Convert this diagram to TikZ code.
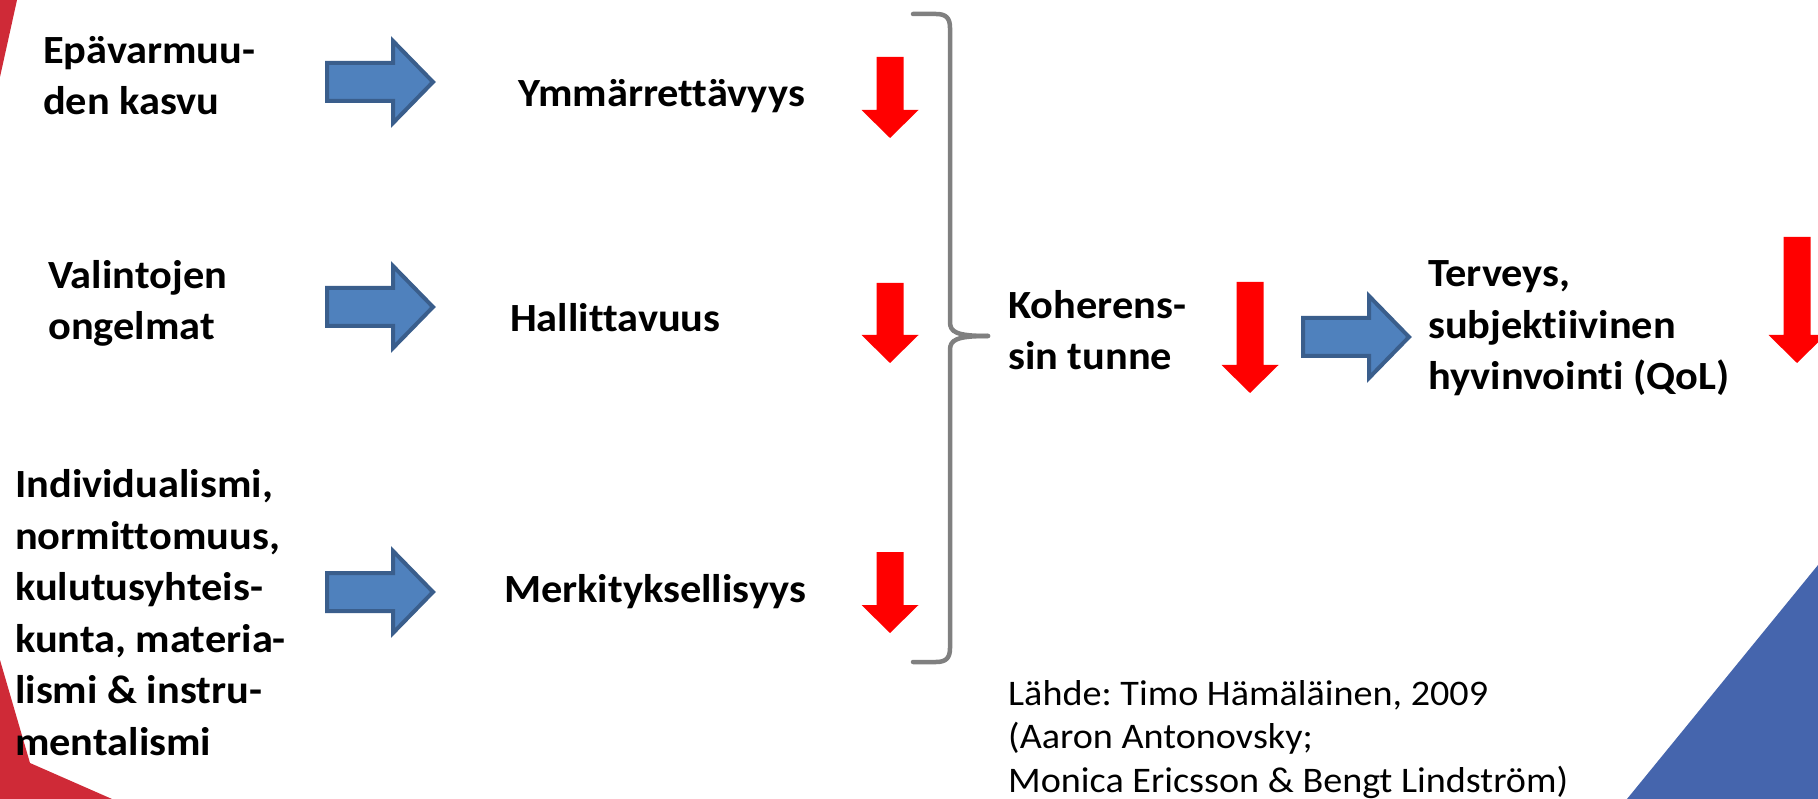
\documentclass[tikz,border=0pt]{standalone}
\usepackage{fontspec}
\setmainfont{Carlito}[RawFeature={-liga}, FakeStretch=1.06]
\definecolor{arrowblue}{HTML}{4F81BD}
\definecolor{arrowedge}{HTML}{3A5E8C}
\definecolor{bracegray}{HTML}{808080}
\definecolor{cornerred}{HTML}{CF2A37}
\definecolor{cornerblue}{HTML}{4565AD}
\newcommand\redarr[4]{%
  \fill[redshape] (#1-13.5,#2) -- (#1+13.5,#2) -- (#1+13.5,#3) -- (#1+28.5,#3) -- (#1,#4) -- (#1-28.5,#3) -- (#1-13.5,#3) -- cycle;}
\newcommand\bluearr[2]{%
  \draw[blueshape] (#1+2,#2-19) -- (#1+68,#2-19) -- (#1+68,#2-41) -- (#1+108,#2) -- (#1+68,#2+41) -- (#1+68,#2+19) -- (#1+2,#2+19) -- cycle;}
\tikzset{
  redshape/.style={fill=red},
  blueshape/.style={fill=arrowblue, draw=arrowedge, line width=4pt, line join=miter},
  boldlbl/.style={font=\fontsize{40}{51.5}\selectfont\bfseries\frenchspacing, align=left, inner sep=0pt, anchor=base west},
  srclbl/.style={font=\fontsize{36}{43.5}\selectfont\frenchspacing, align=left, inner sep=0pt, anchor=base west},
  bracestyle/.style={draw=bracegray, line width=4.5pt, line cap=round, line join=round}
}
\begin{document}
\begin{tikzpicture}[x=1pt, y=-1pt]
\useasboundingbox (0,0) rectangle (1818,799);
\fill[white] (0,0) rectangle (1818,799);
% corner decorations
\fill[cornerred] (0,0) -- (17,0) -- (0,77) -- cycle;
\fill[cornerred] (0,660) -- (30,763) -- (112,799) -- (0,799) -- cycle;
\fill[cornerblue] (1627,799) -- (1818,565) -- (1818,799) -- cycle;
% text nodes (anchor = baseline of the last line)
\node[boldlbl] (epa) at (43,115) {Epävarmuu-\\den kasvu};
\node[boldlbl] (val) at (48,340) {Valintojen\\ongelmat};
\node[boldlbl] (ind) at (15,755) {Individualismi,\\normittomuus,\\kulutusyhteis-\\kunta, materia-\\lismi \& instru-\\mentalismi};
\node[boldlbl] (ymm) at (518,107) {Ymmärrettävyys};
\node[boldlbl] (hal) at (510,332) {Hallittavuus};
\node[boldlbl] (mer) at (504,602) {Merkityksellisyys};
\node[boldlbl] (koh) at (1008,370) {Koherens-\\sin tunne};
\node[boldlbl] (ter) at (1428,390) {Terveys,\\subjektiivinen\\hyvinvointi (QoL)};
\node[srclbl] (src) at (1008,792) {Lähde: Timo Hämäläinen, 2009\\(Aaron Antonovsky;\\Monica Ericsson \& Bengt Lindström)};
% blue arrows
\bluearr{325}{82}
\bluearr{325}{307}
\bluearr{325}{592}
\bluearr{1301}{337}
% red arrows
\redarr{890}{57}{110}{138}
\redarr{890}{283}{335}{363}
\redarr{890}{552}{605}{633}
\redarr{1250}{282}{365}{393}
\redarr{1797}{237}{335}{363}
% brace
\draw[bracestyle] (913,14) -- (936,14) .. controls (946,14) and (950,18) .. (950,28) -- (950,322)
  .. controls (950,332) and (956,336) .. (988,336);
\draw[bracestyle] (988,336) .. controls (956,336) and (950,340) .. (950,350) -- (950,648)
  .. controls (950,658) and (946,662) .. (936,662) -- (913,662);
\end{tikzpicture}
\end{document}
